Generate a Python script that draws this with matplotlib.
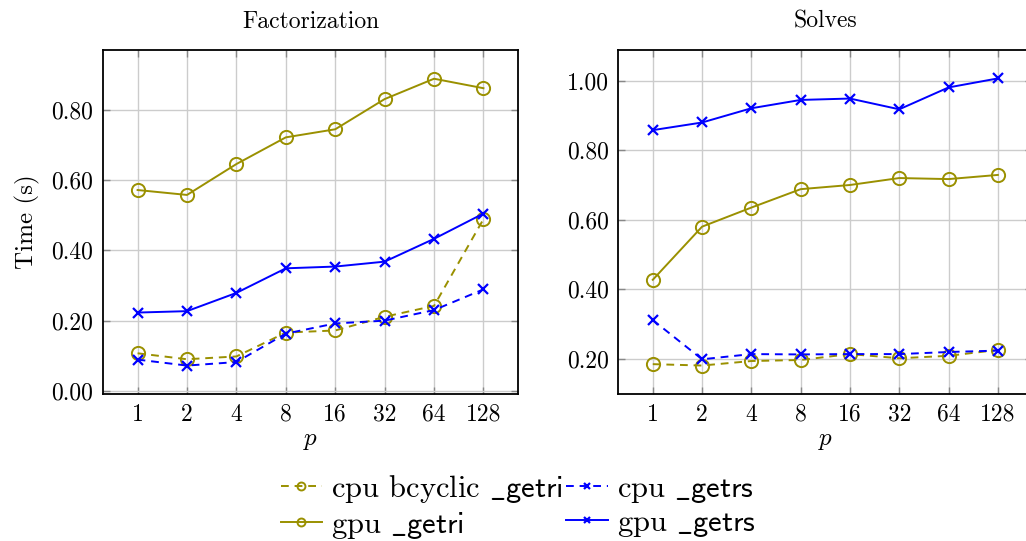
import numpy as np
import matplotlib
matplotlib.use("Agg")
import matplotlib.pyplot as plt

plt.rcParams['font.family'] = 'cmr10'
plt.rcParams['mathtext.fontset'] = 'cm'
plt.rcParams['axes.formatter.use_mathtext'] = True

procs = [1, 2, 4, 8, 16, 32, 64, 128]

# Factorization timings (s)
fact_cpu_bcyclic_getri = [0.107, 0.090, 0.098, 0.166, 0.172, 0.211, 0.242, 0.489]
fact_gpu_getri = [0.572, 0.558, 0.646, 0.722, 0.745, 0.831, 0.889, 0.862]
fact_cpu_getrs = [0.089, 0.072, 0.082, 0.163, 0.192, 0.200, 0.230, 0.289]
fact_gpu_getrs = [0.223, 0.227, 0.279, 0.349, 0.354, 0.368, 0.433, 0.505]

# Solve timings (s)
solve_cpu_bcyclic_getri = [0.184, 0.180, 0.193, 0.196, 0.213, 0.201, 0.208, 0.225]
solve_gpu_getri = [0.427, 0.580, 0.635, 0.688, 0.700, 0.720, 0.717, 0.729]
solve_cpu_getrs = [0.311, 0.198, 0.213, 0.212, 0.213, 0.213, 0.219, 0.223]
solve_gpu_getrs = [0.858, 0.880, 0.921, 0.945, 0.949, 0.918, 0.981, 1.007]

labels = [r"cpu bcyclic $\mathsf{\_getri}$", r"gpu $\mathsf{\_getri}$",
          r"cpu $\mathsf{\_getrs}$", r"gpu $\mathsf{\_getrs}$"]

OLIVE = '#9a9000'
BLUE = '#0000ff'
styles = [
    dict(color=OLIVE, ls=(0, (4, 3)), marker='o', mfc='none', ms=9.5, mew=1.4, lw=1.4),
    dict(color=OLIVE, ls='-', marker='o', mfc='none', ms=9.5, mew=1.4, lw=1.4),
    dict(color=BLUE, ls=(0, (4, 3)), marker='x', ms=7, mew=1.6, lw=1.4),
    dict(color=BLUE, ls='-', marker='x', ms=7, mew=1.6, lw=1.4),
]

fig = plt.figure(figsize=(10.26, 5.41), dpi=100)
ax1 = fig.add_axes([0.1004, 0.2717, 0.4045, 0.636])
ax2 = fig.add_axes([0.6026, 0.2717, 0.4036, 0.636])

x = np.arange(len(procs))


def setup(ax, title, ylim, yticks):
    ax.set_xlim(-0.7, 7.7)
    ax.set_ylim(*ylim)
    ax.set_xticks(x)
    ax.set_xticklabels([str(p) for p in procs])
    ax.set_yticks(yticks)
    ax.set_yticklabels(["%.2f" % v for v in yticks])
    ax.grid(True, color='#cccccc', lw=1.0)
    ax.set_axisbelow(True)
    ax.tick_params(direction='in', length=5, width=1.0, color='#888888',
                   top=True, right=True, labelsize=17, pad=7)
    for s in ax.spines.values():
        s.set_linewidth(1.3)
    ax.set_title(title, fontsize=17, pad=16)
    ax.set_xlabel(r"$p$", fontsize=18, labelpad=3)


series1 = [fact_cpu_bcyclic_getri, fact_gpu_getri, fact_cpu_getrs, fact_gpu_getrs]
series2 = [solve_cpu_bcyclic_getri, solve_gpu_getri, solve_cpu_getrs, solve_gpu_getrs]

for ys, st, lab in zip(series1, styles, labels):
    ax1.plot(x, ys, label=lab, **st)
for ys, st in zip(series2, styles):
    ax2.plot(x, ys, **st)

setup(ax1, "Factorization", (-0.009, 0.971), [0.0, 0.2, 0.4, 0.6, 0.8])
setup(ax2, "Solves", (0.098, 1.089), [0.2, 0.4, 0.6, 0.8, 1.0])
ax1.set_ylabel("Time (s)", fontsize=18, labelpad=8)

handles, labs = ax1.get_legend_handles_labels()
fig.legend(handles, labs, loc='center', bbox_to_anchor=(0.505, 0.063),
           ncol=2, frameon=False, fontsize=22, markerscale=0.6,
           handlelength=1.35, handletextpad=0.3, columnspacing=0.1,
           labelspacing=0.15)

fig.savefig("out.png", dpi=100)
